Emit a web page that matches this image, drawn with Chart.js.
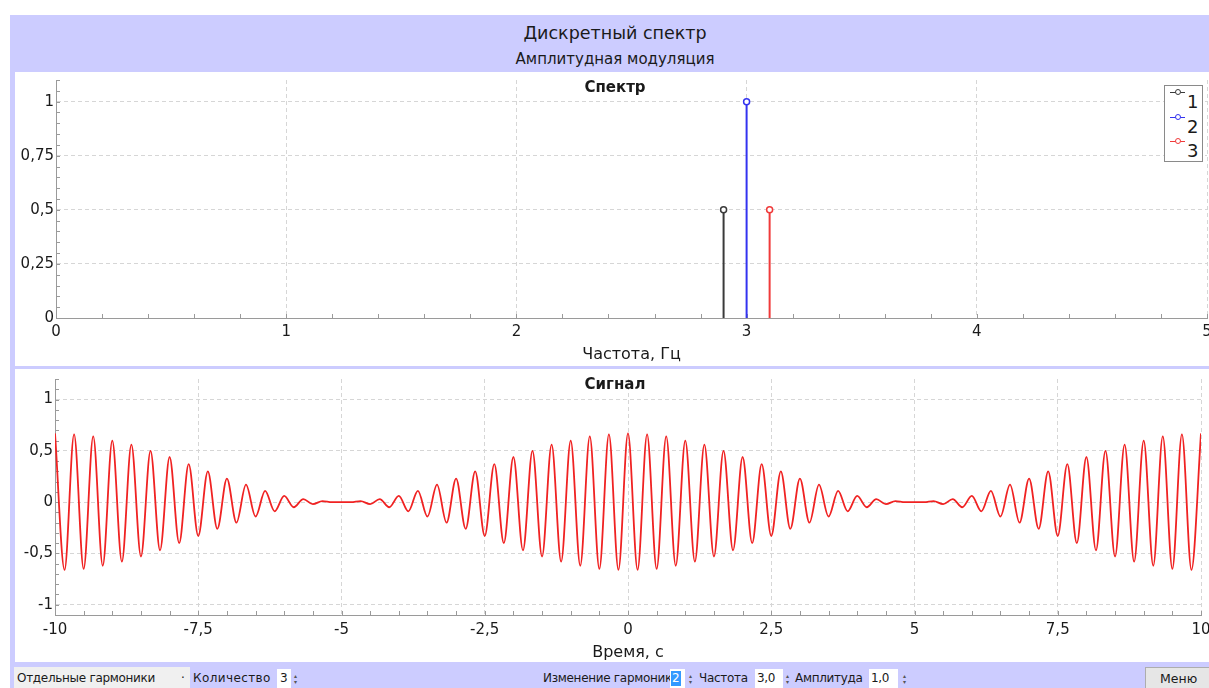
<!DOCTYPE html>
<html lang="ru">
<head>
<meta charset="utf-8">
<title>Дискретный спектр</title>
<script src="https://cdn.jsdelivr.net/npm/chart.js@4"></script>
<style>
  body { margin: 0; width: 1209px; height: 688px; background: #fff; overflow: hidden; font-family: "DejaVu Sans", sans-serif; color: #1a1a1a; position: relative; }
  canvas { display: block; }
  .abs { position: absolute; }
  #frame { left: 10px; top: 15px; width: 1199px; height: 673px; background: #ccccff; }
  .panel { background: #fff; left: 15px; width: 1194px; }
  .center { text-align: center; left: 20px; width: 1190px; white-space: nowrap; }
  .ptitle { font-weight: bold; font-size: 15px; }
  #legend { left: 1164px; top: 85px; width: 37px; height: 75px; border: 1px solid #8a8a8a; background: #fff; }
  .sym-line { position: absolute; left: 5px; width: 15px; height: 0; border-top: 1.5px solid; }
  .sym-dot { position: absolute; left: 10px; width: 4px; height: 4px; border: 1.5px solid; border-radius: 50%; background: #fff; }
  .sym-label { position: absolute; left: 22px; font-size: 18px; line-height: 18px; }
  .tb { font-size: 12px; letter-spacing: -0.3px; top: 671px; white-space: nowrap; }
  .box { background: #fff; top: 669px; height: 19px; }
  .arrows { font-size: 6px; line-height: 6px; top: 673px; color: #555; }
</style>
</head>
<body>
<div id="frame" class="abs"></div>
<div class="abs center" style="top:23px;font-size:17.5px;">Дискретный спектр</div>
<div class="abs center" style="top:50px;font-size:15px;">Амплитудная модуляция</div>

<div class="abs panel" style="top:72px;height:294px;"><canvas id="spectrum" width="1194" height="294"></canvas></div>
<div class="abs panel" style="top:369px;height:293px;"><canvas id="signal" width="1194" height="293"></canvas></div>

<div class="abs center ptitle" style="top:78px;">Спектр</div>
<div class="abs center ptitle" style="top:375px;">Сигнал</div>

<div id="legend" class="abs"></div>

<!-- нижняя панель -->
<div class="abs" style="left:14px;top:667px;width:176px;height:21px;background:#f0f0f0;"></div>
<div class="abs tb" style="left:17px;">Отдельные гармоники</div>
<div class="abs tb" style="left:181px;">·</div>
<div class="abs tb" style="left:193px;letter-spacing:0.4px;">Количество</div>
<div class="abs box" style="left:277px;width:14px;"></div>
<div class="abs tb" style="left:280px;">3</div>
<div class="abs arrows" style="left:294px;">▴<br>▾</div>

<div class="abs tb" style="left:543px;">Изменение гармоники</div>
<div class="abs box" style="left:670px;width:15px;"></div>
<div class="abs" style="left:671px;top:671px;width:10px;height:15px;background:#3399ff;"></div>
<div class="abs tb" style="left:672px;color:#fff;">2</div>
<div class="abs arrows" style="left:689px;">▴<br>▾</div>
<div class="abs tb" style="left:699px;">Частота</div>
<div class="abs box" style="left:755px;width:28px;"></div>
<div class="abs tb" style="left:757px;">3,0</div>
<div class="abs arrows" style="left:786px;">▴<br>▾</div>
<div class="abs tb" style="left:795px;">Амплитуда</div>
<div class="abs box" style="left:869px;width:29px;"></div>
<div class="abs tb" style="left:871px;">1,0</div>
<div class="abs arrows" style="left:903px;">▴<br>▾</div>

<div class="abs" style="left:1145px;top:667px;width:66px;height:23px;background:#e6e6e6;border:1px solid #adadad;box-sizing:border-box;"></div>
<div class="abs tb" style="left:1160px;font-size:12.5px;letter-spacing:0;">Меню</div>

<script>
// Спектр: гармоники
const harmonicNames = ['1', '2', '3'];
const harmonicFreqs = [2.9, 3.0, 3.1];
const harmonicAmps = [0.5, 1.0, 0.5];
const harmonicColors = ['#3a3a3a', '#3333f0', '#f03a3a'];
const freqTicks = [0, 1, 2, 3, 4, 5];
const ampTicks = [0, 0.25, 0.5, 0.75, 1];

// Сигнал: экстремумы
const signalTime = [
  -10, -9.833, -9.667, -9.5, -9.333, -9.167,
  -9, -8.833, -8.667, -8.5, -8.333, -8.167,
  -8, -7.833, -7.667, -7.5, -7.333, -7.167,
  -7, -6.833, -6.667, -6.5, -6.333, -6.167,
  -6, -5.833, -5.667, -5.5, -5.333, -5.167,
  -5, -4.833, -4.667, -4.5, -4.333, -4.167,
  -4, -3.833, -3.667, -3.5, -3.333, -3.167,
  -3, -2.833, -2.667, -2.5, -2.333, -2.167,
  -2, -1.833, -1.667, -1.5, -1.333, -1.167,
  -1, -0.833, -0.667, -0.5, -0.333, -0.167,
  0, 0.167, 0.333, 0.5, 0.667, 0.833,
  1, 1.167, 1.333, 1.5, 1.667, 1.833,
  2, 2.167, 2.333, 2.5, 2.667, 2.833,
  3, 3.167, 3.333, 3.5, 3.667, 3.833,
  4, 4.167, 4.333, 4.5, 4.667, 4.833,
  5, 5.167, 5.333, 5.5, 5.667, 5.833,
  6, 6.167, 6.333, 6.5, 6.667, 6.833,
  7, 7.167, 7.333, 7.5, 7.667, 7.833,
  8, 8.167, 8.333, 8.5, 8.667, 8.833,
  9, 9.167, 9.333, 9.5, 9.667, 9.833,
  10
];
const signalValue = [
  0.67, -0.66, 0.66, -0.65, 0.64, -0.62,
  0.60, -0.58, 0.56, -0.53, 0.50, -0.47,
  0.44, -0.40, 0.37, -0.33, 0.30, -0.26,
  0.23, -0.20, 0.17, -0.14, 0.11, -0.09,
  0.06, -0.05, 0.03, -0.02, 0.01, 0,
  0, 0, 0.01, -0.02, 0.03, -0.05,
  0.06, -0.09, 0.11, -0.14, 0.17, -0.20,
  0.23, -0.26, 0.30, -0.33, 0.37, -0.40,
  0.44, -0.47, 0.50, -0.53, 0.56, -0.58,
  0.60, -0.62, 0.64, -0.65, 0.66, -0.66,
  0.67, -0.66, 0.66, -0.65, 0.64, -0.62,
  0.60, -0.58, 0.56, -0.53, 0.50, -0.47,
  0.44, -0.40, 0.37, -0.33, 0.30, -0.26,
  0.23, -0.20, 0.17, -0.14, 0.11, -0.09,
  0.06, -0.05, 0.03, -0.02, 0.01, 0,
  0, 0, 0.01, -0.02, 0.03, -0.05,
  0.06, -0.09, 0.11, -0.14, 0.17, -0.20,
  0.23, -0.26, 0.30, -0.33, 0.37, -0.40,
  0.44, -0.47, 0.50, -0.53, 0.56, -0.58,
  0.60, -0.62, 0.64, -0.65, 0.66, -0.66,
  0.67
];
const timeTicks = [-10, -7.5, -5, -2.5, 0, 2.5, 5, 7.5, 10];
const valueTicks = [-1, -0.5, 0, 0.5, 1];

Chart.defaults.font.family = '"DejaVu Sans", sans-serif';
Chart.defaults.color = '#1a1a1a';

const fmt = v => String(v).replace('.', ',');

// мелкие засечки внутри области графика
const minorTicks = {
  id: 'minorTicks',
  beforeDatasetsDraw(chart, args, opts) {
    const {ctx, chartArea: a, scales: {x, y}} = chart;
    ctx.save();
    ctx.strokeStyle = '#9a9a9a';
    ctx.lineWidth = 1;
    ctx.beginPath();
    for (let v = x.min; v <= x.max + 1e-9; v += opts.xStep) {
      const px = Math.round(x.getPixelForValue(v)) + 0.5;
      ctx.moveTo(px, a.bottom);
      ctx.lineTo(px, a.bottom - 4);
    }
    for (let v = opts.yFrom; v <= y.max + 1e-9; v += opts.yStep) {
      const py = Math.round(y.getPixelForValue(v)) + 0.5;
      ctx.moveTo(a.left, py);
      ctx.lineTo(a.left + 4, py);
    }
    ctx.stroke();
    ctx.restore();
  }
};

function axis(ticks, min, max, pad, extra) {
  return Object.assign({
    type: 'linear',
    min: min,
    max: max,
    afterBuildTicks: s => { s.ticks = ticks.map(v => ({value: v})); },
    grid: { color: '#d6d6d6', drawTicks: false },
    border: { color: '#9a9a9a', dash: [4, 3] },
    ticks: { font: {size: 15}, color: '#1a1a1a', padding: pad, callback: fmt }
  }, extra);
}

new Chart(document.getElementById('spectrum'), {
  type: 'line',
  data: {
    datasets: harmonicFreqs.map((f, i) => ({
      label: harmonicNames[i],
      data: [{x: f, y: 0}, {x: f, y: harmonicAmps[i]}],
      borderColor: harmonicColors[i],
      borderWidth: 2,
      pointRadius: [0, 3],
      pointBackgroundColor: '#fff',
      pointBorderColor: harmonicColors[i],
      pointBorderWidth: 1.5
    }))
  },
  options: {
    responsive: false,
    animation: false,
    layout: { autoPadding: false, padding: { top: 8, right: 2, left: 0, bottom: 0 } },
    plugins: {
      legend: { display: false },
      tooltip: { enabled: false },
      minorTicks: { xStep: 0.2, yFrom: 0, yStep: 0.05 }
    },
    scales: {
      x: axis(freqTicks, 0, 5, 5, {
        afterFit: s => { s.height = 48; s.paddingLeft = 0; s.paddingRight = 0; },
        title: { display: true, text: 'Частота, Гц', font: {size: 16}, padding: {top: 0, bottom: 1.4} }
      }),
      y: axis(ampTicks, 0, 1.1, 2, {
        afterFit: s => { s.width = 41; s.paddingTop = 0; s.paddingBottom = 0; }
      })
    }
  },
  plugins: [minorTicks]
});

new Chart(document.getElementById('signal'), {
  type: 'line',
  data: {
    datasets: [{
      label: 'Сигнал',
      data: signalTime.map((t, i) => ({x: t, y: signalValue[i]})),
      borderColor: '#f02222',
      borderWidth: 1.8,
      pointRadius: 0,
      cubicInterpolationMode: 'monotone'
    }]
  },
  options: {
    responsive: false,
    animation: false,
    layout: { autoPadding: false, padding: { top: 10, right: 8, left: 0, bottom: 0 } },
    plugins: {
      legend: { display: false },
      tooltip: { enabled: false },
      minorTicks: { xStep: 0.5, yFrom: -1, yStep: 0.1 }
    },
    scales: {
      x: axis(timeTicks, -10, 10, 6, {
        afterFit: s => { s.height = 47; s.paddingLeft = 0; s.paddingRight = 0; },
        title: { display: true, text: 'Время, с', font: {size: 16}, padding: {top: 0, bottom: 0} }
      }),
      y: axis(valueTicks, -1.1, 1.2, 2, {
        afterFit: s => { s.width = 40; s.paddingTop = 0; s.paddingBottom = 0; }
      })
    }
  },
  plugins: [minorTicks]
});

// легенда спектра
const legend = document.getElementById('legend');
harmonicNames.forEach((name, i) => {
  const top = 6 + i * 24.5;
  legend.insertAdjacentHTML('beforeend',
    '<div class="sym-line" style="top:' + top + 'px;border-color:' + harmonicColors[i] + '"></div>' +
    '<div class="sym-dot" style="top:' + (top - 3) + 'px;border-color:' + harmonicColors[i] + '"></div>' +
    '<div class="sym-label" style="top:' + (top + 1) + 'px">' + name + '</div>');
});
</script>
</body>
</html>
